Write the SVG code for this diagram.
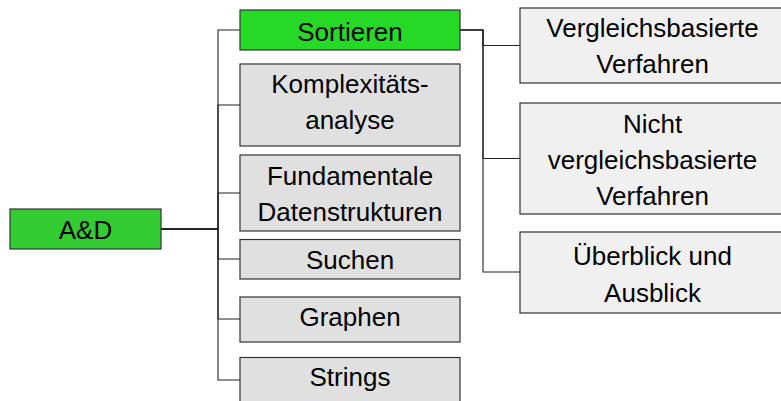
<svg xmlns="http://www.w3.org/2000/svg" width="781" height="401" viewBox="0 0 781 401">
<style>
.box{stroke:#333;stroke-width:1.2}
.root{fill:#33cc33}
.sel{fill:#26d926}
.l1{fill:#e0e0e0}
.l2{fill:#f0f0f0}
text{font-family:"Liberation Sans",Arial,sans-serif;font-size:26px;fill:#000;text-anchor:middle}
.conn path{fill:none;stroke:#222;stroke-width:1.1}
</style>
<rect width="781" height="401" fill="#fff"/>
<g class="conn">
<path d="M161,229 H218 V30 H240"/>
<path d="M161,229 H218 V105 H240"/>
<path d="M161,229 H218 V193 H240"/>
<path d="M161,229 H218 V259 H240"/>
<path d="M161,229 H218 V319 H240"/>
<path d="M161,229 H218 V380 H240"/>
<path d="M460,30 H483 V45.5 H520"/>
<path d="M460,30 H483 V158.5 H520"/>
<path d="M460,30 H483 V272 H520"/>
</g>
<g id="ad"><rect class="box root" x="10" y="209" width="151" height="40"/><text x="85.5" y="239">A&amp;D</text></g>
<g id="sortieren"><rect class="box sel" x="240" y="10" width="220" height="40"/><text x="350" y="41">Sortieren</text></g>
<g id="komplexitaet"><rect class="box l1" x="240" y="64" width="220" height="82"/><text x="350" y="93">Komplexitäts-</text><text x="350" y="129">analyse</text></g>
<g id="datenstrukturen"><rect class="box l1" x="240" y="155" width="220" height="76"/><text x="350" y="184.5">Fundamentale</text><text x="350" y="220.5">Datenstrukturen</text></g>
<g id="suchen"><rect class="box l1" x="240" y="239.5" width="220" height="39.5"/><text x="350" y="268.5">Suchen</text></g>
<g id="graphen"><rect class="box l1" x="240" y="297" width="220" height="45"/><text x="350" y="326">Graphen</text></g>
<g id="strings"><rect class="box l1" x="240" y="357.5" width="220" height="50"/><text x="350" y="386">Strings</text></g>
<g id="vergleich"><rect class="box l2" x="520" y="8" width="270" height="75"/><text x="652.5" y="36.5">Vergleichsbasierte</text><text x="652.5" y="72.5">Verfahren</text></g>
<g id="nichtvergleich"><rect class="box l2" x="520" y="103" width="270" height="111"/><text x="652.5" y="133">Nicht</text><text x="652.5" y="169">vergleichsbasierte</text><text x="652.5" y="205">Verfahren</text></g>
<g id="ueberblick"><rect class="box l2" x="520" y="232" width="270" height="81"/><text x="652.5" y="265">Überblick und</text><text x="652.5" y="301.5">Ausblick</text></g>
</svg>
